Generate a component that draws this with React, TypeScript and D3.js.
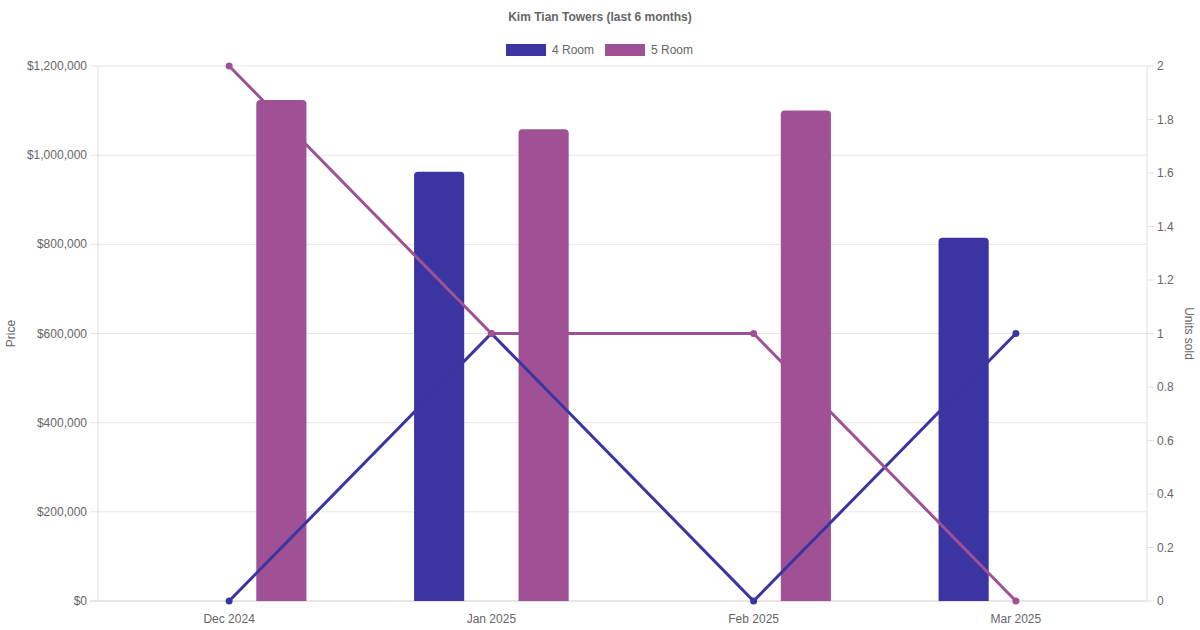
import React from "react";
import * as d3 from "d3";

const months = ["Dec 2024", "Jan 2025", "Feb 2025", "Mar 2025"];
const seriesNames = ["4 Room", "5 Room"];
const colors = ["#3a35a0", "#a05195"];
// average price (null = no sale)
const price4Room: (number | null)[] = [null, 963000, null, 815000];
const price5Room: (number | null)[] = [1124000, 1058000, 1100000, null];
// units sold
const units4Room = [0, 1, 0, 1];
const units5Room = [2, 1, 1, 0];
const priceTicks = [0, 200000, 400000, 600000, 800000, 1000000, 1200000];
const unitTicks = [0, 0.2, 0.4, 0.6, 0.8, 1, 1.2, 1.4, 1.6, 1.8, 2];

const W = 1200;
const H = 630;
const left = 98;
const right = 1147;
const top = 66;
const bottom = 601;
const font = "'Liberation Sans', Arial, Helvetica, sans-serif";
const textColor = "#666";

function roundedTopRect(x: number, y: number, w: number, h: number, r: number) {
  const rr = Math.min(r, w / 2, h);
  return `M${x},${y + h}V${y + rr}Q${x},${y} ${x + rr},${y}H${x + w - rr}Q${x + w},${y} ${x + w},${y + rr}V${y + h}Z`;
}

export default function App() {
  const x = d3.scaleBand<string>().domain(months).range([left, right]);
  const x1 = d3
    .scaleBand<string>()
    .domain(seriesNames)
    .range([0, x.bandwidth()])
    .paddingInner(0.52)
    .paddingOuter(0.515);
  const yP = d3.scaleLinear().domain([0, 1200000]).range([bottom, top]);
  const yU = d3.scaleLinear().domain([0, 2]).range([bottom, top]);
  const fmtPrice = (v: number) => "$" + d3.format(",")(v);

  const prices = [price4Room, price5Room];
  const units = [units4Room, units5Room];

  const cx = (m: string) => (x(m) as number) + x.bandwidth() / 2;

  return (
    <svg width={W} height={H} style={{ position: "absolute", left: 0, top: 0 }} fontFamily={font}>
      <rect width={W} height={H} fill="#fff" />
      <text x={600} y={21} textAnchor="middle" fontSize={12} fontWeight="bold" fill={textColor}>
        Kim Tian Towers (last 6 months)
      </text>
      {/* legend */}
      {seriesNames.map((s, i) => {
        const lx = [506, 605][i];
        return (
          <g key={s}>
            <rect x={lx} y={44} width={40} height={12} fill={colors[i]} />
            <text x={lx + 46} y={54} fontSize={12} fill={textColor}>
              {s}
            </text>
          </g>
        );
      })}
      {/* grid lines + left ticks */}
      {priceTicks.map((t) => (
        <g key={t}>
          <line x1={left - 8} x2={right} y1={yP(t)} y2={yP(t)} stroke={t === 0 ? "#ccc" : "#e5e5e5"} strokeWidth={1} />
          <text x={left - 11} y={yP(t) + 4} textAnchor="end" fontSize={12} fill={textColor}>
            {fmtPrice(t)}
          </text>
        </g>
      ))}
      <line x1={left} x2={left} y1={top} y2={bottom} stroke="#e0e0e0" />
      <line x1={right} x2={right} y1={top} y2={bottom} stroke="#e0e0e0" />
      {unitTicks.map((t) => (
        <g key={t}>
          <line x1={right} x2={right + 7} y1={yU(t)} y2={yU(t)} stroke="#e0e0e0" />
          <text x={right + 10} y={yU(t) + 4} fontSize={12} fill={textColor}>
            {d3.format("~g")(t)}
          </text>
        </g>
      ))}
      {months.map((m) => (
        <text key={m} x={cx(m)} y={623} textAnchor="middle" fontSize={12} fill={textColor}>
          {m}
        </text>
      ))}
      <text transform={`translate(15,${(top + bottom) / 2}) rotate(-90)`} textAnchor="middle" fontSize={12} fill={textColor}>
        Price
      </text>
      <text transform={`translate(1185,${(top + bottom) / 2}) rotate(90)`} textAnchor="middle" fontSize={12} fill={textColor}>
        Units sold
      </text>
      {/* bars */}
      {prices.map((arr, si) =>
        arr.map((v, mi) => {
          if (v == null) return null;
          const bx = (x(months[mi]) as number) + (x1(seriesNames[si]) as number);
          const bw = x1.bandwidth();
          const by = yP(v);
          return <path key={`${si}-${mi}`} d={roundedTopRect(bx, by, bw, bottom - by, 4)} fill={colors[si]} />;
        })
      )}
      {/* lines */}
      {units.map((arr, si) => {
        const line = d3
          .line<number>()
          .x((_, i) => cx(months[i]))
          .y((d) => yU(d));
        return (
          <g key={si}>
            <path d={line(arr) || ""} fill="none" stroke={colors[si]} strokeWidth={3} />
            {arr.map((d, i) => (
              <circle key={i} cx={cx(months[i])} cy={yU(d)} r={3.5} fill={colors[si]} />
            ))}
          </g>
        );
      })}
    </svg>
  );
}
